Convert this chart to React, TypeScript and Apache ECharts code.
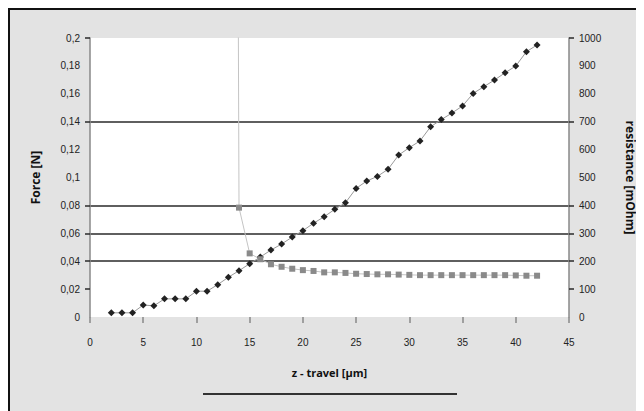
import React, { useEffect, useRef } from "react";
import * as echarts from "echarts";

const forceX = [2,3,4,5,6,7,8,9,10,11,12,13,14,15,16,17,18,19,20,21,22,23,24,25,26,27,28,29,30,31,32,33,34,35,36,37,38,39,40,41,42];
const forceY = [0.003,0.003,0.003,0.0086,0.008,0.013,0.013,0.013,0.0185,0.0185,0.0232,0.0285,0.0332,0.0382,0.043,0.048,0.0523,0.0573,0.0619,0.0672,0.0719,0.0772,0.0819,0.0922,0.0975,0.1008,0.1059,0.1161,0.1214,0.1262,0.1364,0.1415,0.1462,0.1513,0.1603,0.1651,0.1699,0.1751,0.1799,0.1902,0.195];

const resX = [13.93,14,15,16,17,18,19,20,21,22,23,24,25,26,27,28,29,30,31,32,33,34,35,36,37,38,39,40,41,42];
const resY = [1100,392,228,207,189,180,173,168,165,160,160,158,155,154,153,153,152,151,150,150,150,150,150,150,150,150,150,149,148,148];

const forceTickLabels = ["0","0,02","0,04","0,06","0,08","0,1","0,12","0,14","0,16","0,18","0,2"];
const resTickLabels = ["0","100","200","300","400","500","600","700","800","900","1000"];
const xTickLabels = ["0","5","10","15","20","25","30","35","40","45"];

const labelFont = { fontFamily: "Liberation Sans", fontSize: 10, color: "#222" };
const nameFont = { fontFamily: "Open Sans", fontSize: 12, fontWeight: "bold", color: "#111" };

export default function App() {
  const ref = useRef<HTMLDivElement>(null);
  useEffect(() => {
    document.body.style.overflow = "hidden";
    const chart = echarts.init(ref.current!, null, { renderer: "svg" });
    const dark = "#2a2a2a";
    const none = "rgba(0,0,0,0)";
    chart.setOption({
      animation: false,
      backgroundColor: "#e3e3e3",
      grid: { left: 80, top: 28, right: 75, bottom: 94, show: true, backgroundColor: "#fff", borderWidth: 0 },
      xAxis: {
        type: "value", min: 0, max: 45, interval: 5,
        axisLine: { show: false },
        axisTick: { show: true, length: 6, lineStyle: { color: "#888", width: 1.5 } },
        splitLine: { show: false },
        axisLabel: { ...labelFont, margin: 20, formatter: (v: number) => xTickLabels[Math.round(v / 5)] },
        name: "z - travel [µm]", nameLocation: "middle", nameGap: 50, nameTextStyle: { ...nameFont, fontSize: 11 },
      },
      yAxis: [
        {
          type: "value", min: 0, max: 0.2, interval: 0.02,
          axisLine: { show: true, lineStyle: { color: "#888", width: 1.5 } },
          axisTick: { show: true, length: 5, customValues: [0.02, 0.04, 0.06, 0.08, 0.14, 0.2], lineStyle: { color: dark, width: 1.5 } },
          splitLine: { show: true, lineStyle: { width: 1.5, color: [none, dark, dark, dark, dark, none, none, dark, none, none, none] } },
          axisLabel: { ...labelFont, margin: 10, formatter: (v: number) => forceTickLabels[Math.round(v / 0.02)] },
          name: "Force [N]", nameLocation: "middle", nameGap: 49, nameTextStyle: nameFont,
        },
        {
          type: "value", min: 0, max: 1000, interval: 100,
          axisLine: { show: true, lineStyle: { color: "#888", width: 1.5 } },
          axisTick: { show: true, length: 5, customValues: [100, 200, 300, 400, 700, 1000], lineStyle: { color: dark, width: 1.5 } },
          splitLine: { show: false },
          axisLabel: { ...labelFont, margin: 10, formatter: (v: number) => resTickLabels[Math.round(v / 100)] },
          name: "resistance [mOhm]", nameLocation: "middle", nameGap: 55, nameRotate: -90, nameTextStyle: nameFont,
        },
      ],
      series: [
        {
          type: "line", yAxisIndex: 0,
          data: forceX.map((x, i) => [x, forceY[i]]),
          symbol: "diamond", symbolSize: 7,
          itemStyle: { color: "#222" },
          lineStyle: { color: "#999", width: 1 },
        },
        {
          type: "line", yAxisIndex: 1,
          data: resX.map((x, i) => [x, resY[i]]),
          symbol: "rect", symbolSize: 6,
          showSymbol: true,
          itemStyle: { color: "#8a8a8a" },
          lineStyle: { color: "#c4c4c4", width: 1 },
        },
      ],
      graphic: [
        { type: "line", shape: { x1: 193, y1: 384, x2: 447, y2: 384 }, style: { stroke: "#333", lineWidth: 2 } },
      ],
    });
    return () => chart.dispose();
  }, []);
  return (
    <div style={{ width: 636, height: 403, boxSizing: "border-box", borderLeft: "2px solid #111", borderTop: "2px solid #111" }}>
      <div ref={ref} style={{ width: 634, height: 401 }} />
    </div>
  );
}
